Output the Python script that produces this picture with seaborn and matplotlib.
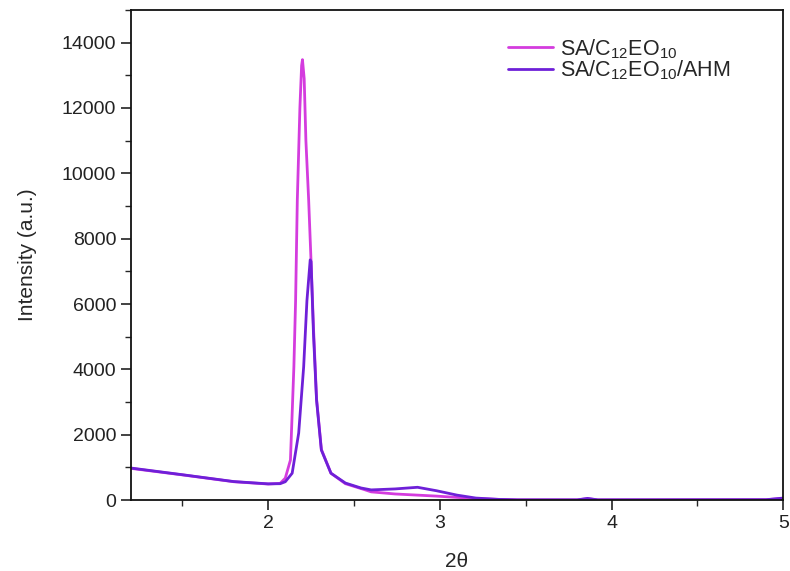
import pandas as pd
import matplotlib
matplotlib.use("Agg")
import matplotlib.pyplot as plt
import seaborn as sns
from matplotlib.ticker import MultipleLocator

# SA/C12EO10 curve
x_sa = [1.20, 1.50, 1.80, 2.00, 2.07, 2.10, 2.13, 2.15, 2.16, 2.17, 2.185, 2.195, 2.20,
        2.21, 2.22, 2.236, 2.25, 2.264, 2.282, 2.31, 2.366, 2.45, 2.56, 2.60, 2.74,
        2.87, 2.98, 3.10, 3.21, 3.34, 3.45, 3.80, 3.86, 3.92, 4.90, 5.00]
y_sa = [970, 770, 560, 490, 510, 670, 1225, 4080, 6100, 9190, 12000, 13300, 13480,
        12900, 11000, 9190, 7300, 5300, 3100, 1550, 820, 500, 320, 250, 185,
        150, 120, 80, 45, 20, 5, 5, 40, 5, 10, 50]

# SA/C12EO10/AHM curve
x_ahm = [1.20, 1.50, 1.80, 2.00, 2.07, 2.10, 2.14, 2.178, 2.207, 2.226, 2.245, 2.25,
         2.264, 2.282, 2.31, 2.366, 2.45, 2.54, 2.60, 2.74, 2.87, 2.98, 3.10, 3.21,
         3.34, 3.45, 3.80, 3.86, 3.92, 4.90, 5.00]
y_ahm = [980, 775, 565, 495, 500, 560, 820, 2050, 4080, 6100, 7350, 7300,
         5100, 3060, 1530, 820, 520, 370, 310, 340, 390, 285, 150, 60,
         20, 5, 5, 50, 5, 10, 60]

labels = ['SA/C$_{12}$EO$_{10}$', 'SA/C$_{12}$EO$_{10}$/AHM']
colors = ['#D43CDE', '#6E20D8']

df = pd.concat([
    pd.DataFrame({'x': x_sa, 'y': y_sa, 'sample': labels[0]}),
    pd.DataFrame({'x': x_ahm, 'y': y_ahm, 'sample': labels[1]}),
], ignore_index=True)

sns.set_theme(style="ticks")
plt.rcParams['font.family'] = ['Liberation Sans', 'DejaVu Sans']
plt.rcParams['mathtext.fontset'] = 'custom'
plt.rcParams['mathtext.rm'] = 'Liberation Sans'
plt.rcParams['mathtext.it'] = 'Liberation Sans'

fig = plt.figure(figsize=(7.9, 5.71), dpi=100)
ax = fig.add_axes([0.1655, 0.1243, 0.826, 0.8582])

sns.lineplot(data=df, x='x', y='y', hue='sample', palette=colors, sort=False,
             estimator=None, linewidth=2.0, ax=ax)

ax.set_xlim(1.2, 5)
ax.set_ylim(0, 15000)
ax.set_yticks(range(0, 14001, 2000))
ax.set_xticks([2, 3, 4, 5])
ax.xaxis.set_minor_locator(MultipleLocator(0.5))
ax.yaxis.set_minor_locator(MultipleLocator(1000))
ax.tick_params(which='major', direction='out', length=7, width=1.2, labelsize=14, colors='#222222')
ax.tick_params(which='minor', direction='out', length=4, width=1.0)
for s in ax.spines.values():
    s.set_visible(True)
    s.set_linewidth(1.3)
    s.set_color('#111111')

ax.set_xlabel('2θ', fontsize=15, labelpad=15)
ax.set_ylabel('Intensity (a.u.)', fontsize=15, labelpad=18)

ax.legend(loc='upper left', bbox_to_anchor=(0.578, 0.945), frameon=False,
          fontsize=15.5, handlelength=2.1, handletextpad=0.3, labelspacing=-0.08,
          borderpad=0, borderaxespad=0)

fig.savefig('out.png', dpi=100)
